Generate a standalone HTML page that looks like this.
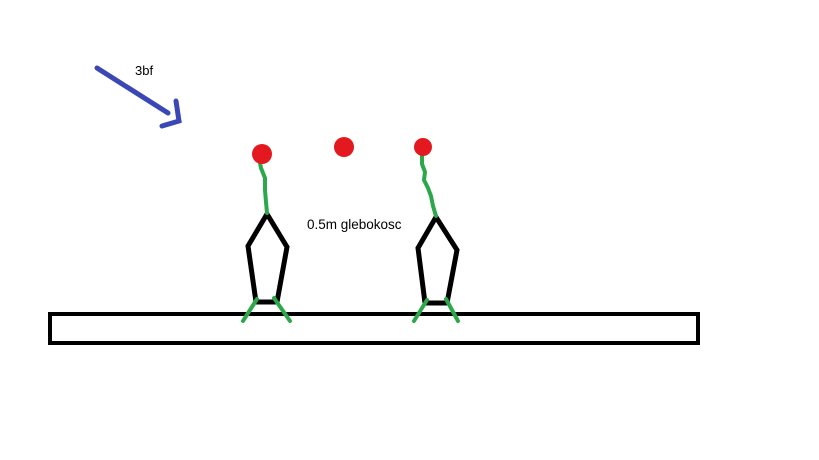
<!DOCTYPE html>
<html><head><style>body{margin:0;background:#fff}svg{display:block}</style></head>
<body>
<svg width="819" height="460" xmlns="http://www.w3.org/2000/svg">
<rect x="0" y="0" width="819" height="460" fill="#fff"/>
<rect x="50" y="314" width="648" height="29" fill="none" stroke="#000" stroke-width="4"/>
<g fill="none" stroke="#000" stroke-width="5" stroke-linejoin="miter">
<polygon points="267,214 248,246 256,302 277,302 287,247"/>
<polygon points="436,217 418,248 425,303 447,303 457,250"/>
</g>
<g fill="none" stroke="#2ca84a" stroke-width="4" stroke-linecap="round">
<path d="M257,299 L243,321 M274,298 L290,321"/>
<path d="M427,300 L414,321 M446,299 L458,321"/>
<path d="M259,158 L261,168 L265,178 L265,190 L266,202 L267,213"/>
<path d="M422,152 L422,164 L425,172 L424,180 L428,188 L431,196 L433,206 L436,216"/>
</g>
<g fill="#e3191f">
<circle cx="262" cy="154" r="10"/>
<circle cx="344" cy="147" r="10"/>
<circle cx="423" cy="147" r="9"/>
</g>
<g fill="none" stroke="#3b47b5" stroke-width="5" stroke-linecap="round">
<path d="M97,68 L168,113"/>
<path d="M176,101 L179,121 L162,126"/>
</g>
<text x="135" y="75" font-family="Liberation Sans, sans-serif" font-size="13" fill="#000">3bf</text>
<text x="307" y="229" font-family="Liberation Sans, sans-serif" font-size="13.5" fill="#000">0.5m glebokosc</text>
</svg>
</body></html>
